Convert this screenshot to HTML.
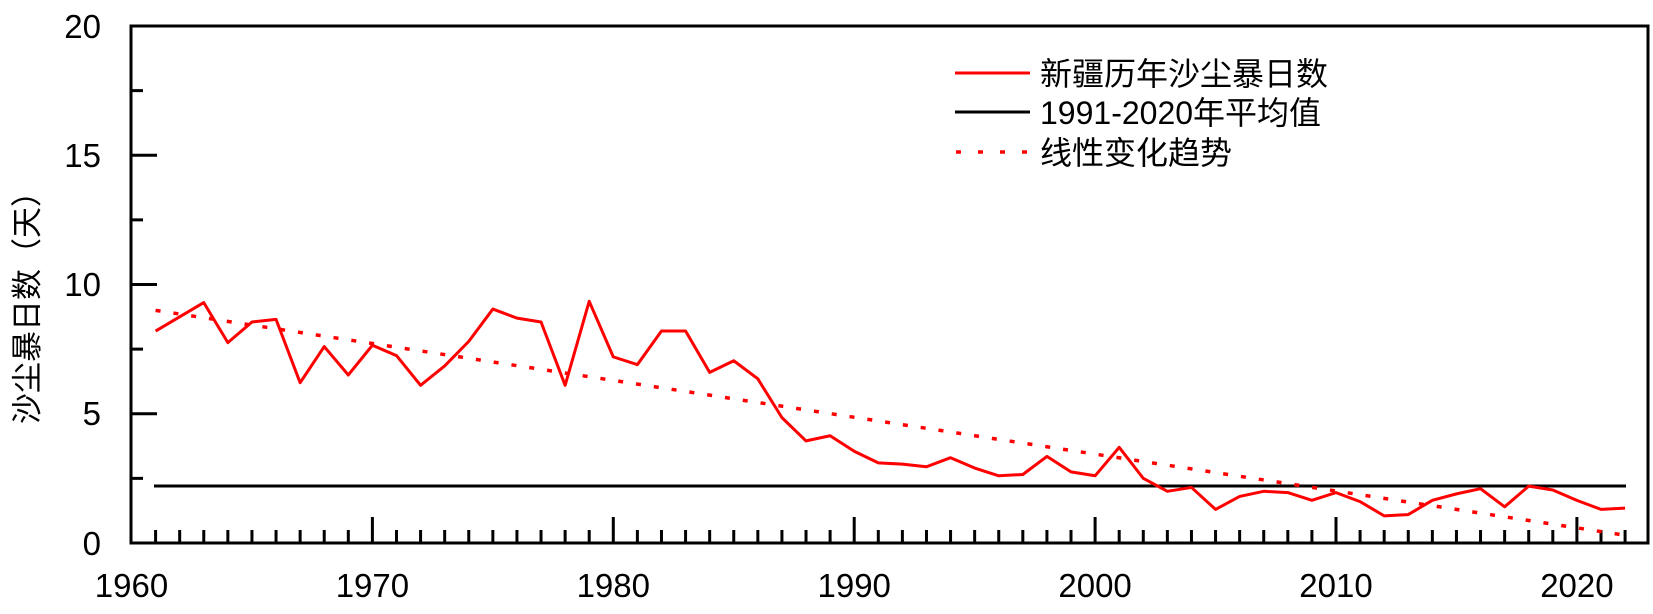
<!DOCTYPE html>
<html><head><meta charset="utf-8"><style>
body{margin:0;background:#fff}
text{font-family:"Liberation Sans","Noto Sans CJK SC",sans-serif;fill:#000}
</style></head><body>
<svg id="s" width="1653" height="609" xmlns="http://www.w3.org/2000/svg">
<rect width="1653" height="609" fill="#fff"/>
<g id="ticks" stroke="#000" stroke-width="3"></g>
<line x1="154" y1="486" x2="1626" y2="486" stroke="#000" stroke-width="3"/>
<polyline id="trend" fill="none" stroke="#f00" stroke-width="3.5" stroke-dasharray="5,13"/>
<polyline id="data" fill="none" stroke="#f00" stroke-width="3" stroke-linejoin="round"/>
<rect x="131" y="26" width="1517" height="517" fill="none" stroke="#000" stroke-width="3"/>
<g font-size="33" text-anchor="end">
<text x="101" y="38">20</text><text x="101" y="167">15</text><text x="101" y="296">10</text><text x="101" y="425">5</text><text x="101" y="555">0</text>
</g>
<g font-size="33" text-anchor="middle">
<text x="131.5" y="597">1960</text><text x="372.4" y="597">1970</text><text x="613.3" y="597">1980</text><text x="854.2" y="597">1990</text><text x="1095.1" y="597">2000</text><text x="1336" y="597">2010</text><text x="1576.9" y="597">2020</text>
</g>
<text transform="translate(38,300) rotate(-90)" font-size="31" text-anchor="middle">沙尘暴日数（天）</text>
<line x1="955" y1="73" x2="1030" y2="73" stroke="#f00" stroke-width="3"/>
<line x1="955" y1="112" x2="1030" y2="112" stroke="#000" stroke-width="3"/>
<line x1="956" y1="152" x2="1030" y2="152" stroke="#f00" stroke-width="3.5" stroke-dasharray="5,17"/>
<g font-size="32">
<text x="1040" y="85">新疆历年沙尘暴日数</text>
<text x="1040" y="124">1991-2020年平均值</text>
<text x="1040" y="164">线性变化趋势</text>
</g>
</svg>
<script>
var X=function(y){return 131.5+(y-1960)*24.09},Y=function(v){return 543-v*25.85};
var d=[8.2,8.75,9.3,7.75,8.55,8.65,6.2,7.6,6.5,7.65,7.25,6.1,6.85,7.8,9.05,8.7,8.55,6.1,9.35,7.2,6.9,8.2,8.2,6.6,7.05,6.35,4.85,3.95,4.15,3.55,3.1,3.05,2.95,3.3,2.9,2.6,2.65,3.35,2.75,2.6,3.7,2.5,2.0,2.15,1.3,1.8,2.0,1.95,1.65,1.95,1.6,1.05,1.1,1.65,1.9,2.1,1.4,2.2,2.05,1.65,1.3,1.35];
var p=d.map(function(v,i){return X(1961+i)+','+Y(v)}).join(' ');
document.getElementById('data').setAttribute('points',p);
document.getElementById('trend').setAttribute('points',X(1961)+','+Y(9.0)+' '+X(2022)+','+Y(0.3));
var g=document.getElementById('ticks'),h='';
for(var y=1961;y<=2022;y++){var L=(y%10==0)?26:13;h+='<line x1="'+X(y)+'" y1="543" x2="'+X(y)+'" y2="'+(543-L)+'"/>';}
for(var v=2.5;v<20;v+=2.5){var L=(v%5==0)?26:12;h+='<line x1="131" y1="'+Y(v)+'" x2="'+(131+L)+'" y2="'+Y(v)+'"/>';}
g.innerHTML=h;
</script>
</body></html>
